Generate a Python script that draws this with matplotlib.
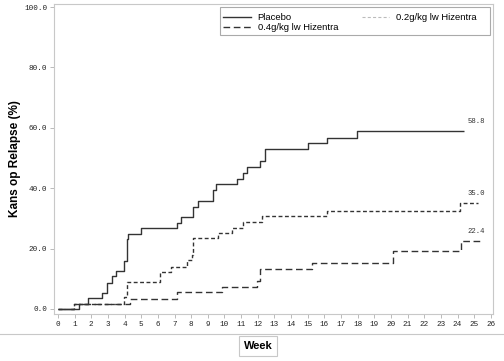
import matplotlib
matplotlib.use("Agg")
import matplotlib.pyplot as plt
from matplotlib.lines import Line2D
from matplotlib.patches import Rectangle

plt.rcParams['lines.scale_dashes'] = False

# ---- data (weeks, cumulative % relapse) ----
placebo_t = [0, 1.25, 1.82, 2.66, 2.96, 3.26, 3.46, 3.98, 4.12, 4.2, 4.97, 7.13, 7.4,
             8.13, 8.43, 9.29, 9.49, 10.73, 11.13, 11.33, 12.13, 12.43, 15.0, 16.18,
             17.94, 24.4]
placebo_v = [0, 1.7, 3.5, 5.4, 8.7, 10.9, 12.6, 15.9, 23.2, 24.8, 26.7, 28.6, 30.4,
             33.9, 35.9, 39.4, 41.4, 43.0, 44.9, 46.9, 49.0, 52.9, 54.9, 56.7,
             58.8, 58.8]

low_t = [0, 0.96, 3.99, 4.16, 6.13, 6.79, 7.73, 8.03, 8.13, 9.63, 10.43, 11.13, 12.27,
         16.14, 24.14, 25.2]
low_v = [0, 1.7, 3.9, 8.8, 12.1, 14.0, 16.2, 17.9, 23.4, 25.1, 26.7, 28.7, 30.9,
         32.5, 35.0, 35.0]

high_t = [0, 0.96, 4.32, 7.13, 9.83, 11.93, 12.13, 15.27, 20.14, 24.19, 25.35]
high_v = [0, 1.7, 3.4, 5.5, 7.2, 9.4, 13.1, 15.1, 19.2, 22.4, 22.4]

series_names = ["Placebo", "0.4g/kg lw Hizentra", "0.2g/kg lw Hizentra"]
end_labels = ["58.8", "35.0", "22.4"]
x_ticks = list(range(0, 27))
y_ticks = [0, 20, 40, 60, 80, 100]

line_col = "#333333"
fig = plt.figure(figsize=(5.04, 3.61), dpi=100)
ax = fig.add_axes([54/504, 1-314/361, (493-54)/504, (314-4)/361])

ax.step(placebo_t, placebo_v, where='post', color=line_col, lw=1.0, solid_capstyle='butt')
ax.step(high_t, high_v, where='post', color=line_col, lw=1.0, dashes=(4.8, 2.6))
ax.step(low_t, low_v, where='post', color=line_col, lw=1.0, dashes=(2.8, 1.8))

mono = "Liberation Mono"
for t, v, lab in [(placebo_t[-1], placebo_v[-1], end_labels[0]),
                  (low_t[-1], low_v[-1], end_labels[1]),
                  (high_t[-1], high_v[-1], end_labels[2])]:
    ax.annotate(lab, xy=(25.1, v), xytext=(0, 4.5), textcoords='offset points',
                ha='center', va='bottom', fontsize=5.2, family=mono, color="#333333")

ax.set_xlim(-0.24, 26.13)
ax.set_ylim(-1.66, 101.0)
ax.set_xticks(x_ticks)
ax.set_xticklabels([str(x) for x in x_ticks], family=mono, fontsize=5.5)
ax.set_yticks(y_ticks)
ax.set_yticklabels([f"{y:.1f}" for y in y_ticks], family=mono, fontsize=5.5)
ax.tick_params(axis='both', length=3, width=0.6, color="#b0b0b0", pad=2, labelcolor="#222222")
for s in ax.spines.values():
    s.set_color("#c8c8c8")
    s.set_linewidth(0.8)

ax.set_ylabel("Kans op Relapse (%)", fontsize=8.5, fontweight='bold',
              family="Liberation Sans", labelpad=2)

# legend: frame drawn separately so that columns keep their natural spacing
ax.add_patch(Rectangle((0.378, 0.9), 0.615, 0.09, transform=ax.transAxes,
                       fill=False, ec="#aaaaaa", lw=0.8, zorder=5))
handles = [Line2D([], [], color=line_col, lw=1.0),
           Line2D([], [], color=line_col, lw=1.0, dashes=(4.8, 2.6)),
           Line2D([], [], color="#bbbbbb", lw=0.8, dashes=(2.2, 1.6))]
leg = ax.legend(handles, series_names, ncol=2, loc='upper left',
                bbox_to_anchor=(0.378, 0.982),
                prop={'family': 'Liberation Sans', 'size': 6.8}, frameon=False,
                handlelength=2.9, handletextpad=0.75, borderpad=0.35,
                labelspacing=0.15, columnspacing=2.5, borderaxespad=0)

# bottom separator and "Week" box
fig.add_artist(Line2D([0, 1], [1-334/361, 1-334/361], color="#c8c8c8", lw=0.8,
                      transform=fig.transFigure))
fig.text(258/504, 1-346/361, "Week", ha='center', va='center', fontsize=8,
         fontweight='bold', family="Liberation Sans",
         bbox=dict(boxstyle='square,pad=0.45', fc='white', ec="#c8c8c8", lw=0.8))

fig.savefig("out.png", dpi=100)
